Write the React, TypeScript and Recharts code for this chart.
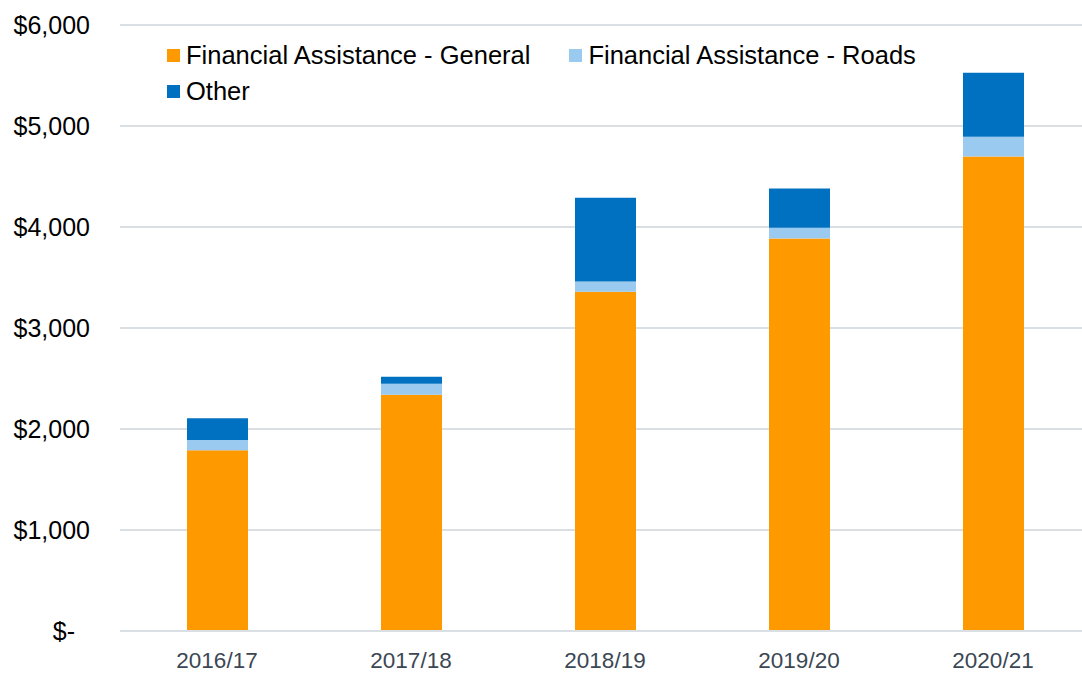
import React from "react";
import { BarChart, Bar, XAxis, YAxis, CartesianGrid, Legend } from "recharts";

const categories = ["2016/17", "2017/18", "2018/19", "2019/20", "2020/21"];
const generalValues = [1790, 2340, 3358, 3886, 4698];
const roadsValues = [102, 108, 102, 106, 196];
const otherValues = [215, 69, 830, 390, 634];
const yTicks = [0, 1000, 2000, 3000, 4000, 5000, 6000];

const seriesNames = {
  general: "Financial Assistance - General",
  roads: "Financial Assistance - Roads",
  other: "Other",
};

const data = categories.map((c, i) => ({
  name: c,
  general: generalValues[i],
  roads: roadsValues[i],
  other: otherValues[i],
}));

const FONT = '"Liberation Sans", Arial, sans-serif';

const formatY = (v: number) => (v === 0 ? "$-" : "$" + v.toLocaleString("en-US"));

const YTick = (props: any) => {
  const { x, y, payload } = props;
  const v = payload.value as number;
  return (
    <text
      x={v === 0 ? x - 15 : x}
      y={y}
      dy="0.355em"
      textAnchor="end"
      fill="#000000"
      fontSize={25}
      fontFamily={FONT}
    >
      {formatY(v)}
    </text>
  );
};

const renderLegend = (props: any) => {
  const { payload } = props;
  return (
    <div style={{ display: "flex", flexWrap: "wrap", width: 820, fontFamily: FONT }}>
      {(payload || []).map((entry: any, i: number) => (
        <div
          key={i}
          style={{
            display: "flex",
            alignItems: "center",
            height: 36,
            marginRight: 39,
            whiteSpace: "nowrap",
          }}
        >
          <span
            style={{
              display: "inline-block",
              width: 13,
              height: 13,
              background: entry.color,
              marginRight: 6,
            }}
          />
          <span style={{ fontSize: 25.5, color: "#000000" }}>{entry.value}</span>
        </div>
      ))}
    </div>
  );
};

export default function App() {
  return (
    <div
      style={{
        position: "absolute",
        left: 0,
        top: 0,
        width: 1082,
        height: 673,
        overflow: "hidden",
        background: "#ffffff",
      }}
    >
      <BarChart
        width={1090}
        height={673}
        data={data}
        margin={{ top: 25, right: 0, left: 0, bottom: 0 }}
        barSize={61}
      >
        <CartesianGrid vertical={false} stroke="#DADFE4" strokeWidth={2} />
        <XAxis
          dataKey="name"
          height={42}
          axisLine={{ stroke: "#DADFE4", strokeWidth: 2 }}
          tickLine={false}
          tickMargin={15}
          tick={{ fill: "#3B4754", fontSize: 22.5, fontFamily: FONT }}
          interval={0}
        />
        <YAxis
          width={120}
          domain={[0, 6000]}
          ticks={yTicks}
          axisLine={false}
          tickLine={false}
          tickMargin={24}
          tick={<YTick />}
          interval={0}
        />
        <Legend
          layout="horizontal"
          verticalAlign="middle"
          align="center"
          content={renderLegend}
          wrapperStyle={{ position: "absolute", top: 37, left: 167, width: 820 }}
        />
        <Bar dataKey="general" name={seriesNames.general} stackId="a" fill="#FF9900" isAnimationActive={false} />
        <Bar dataKey="roads" name={seriesNames.roads} stackId="a" fill="#9BCAF0" isAnimationActive={false} />
        <Bar dataKey="other" name={seriesNames.other} stackId="a" fill="#0070C0" isAnimationActive={false} />
      </BarChart>
    </div>
  );
}
